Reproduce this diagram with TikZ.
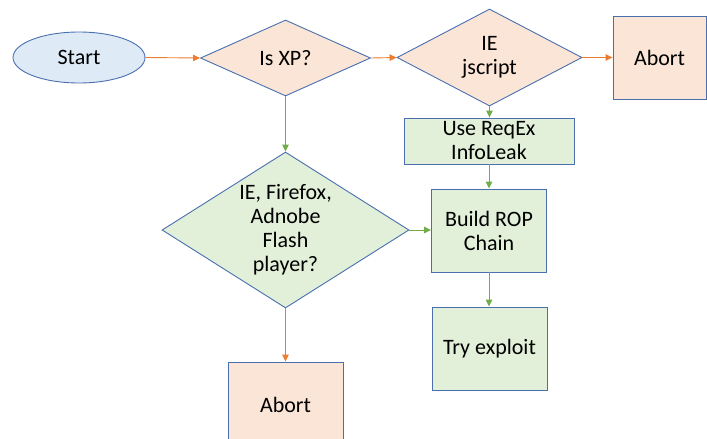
\documentclass[tikz,border=0pt]{standalone}
\usepackage{fontspec}
\setmainfont{Carlito}
\usetikzlibrary{shapes.geometric,arrows.meta}
\definecolor{edgeblue}{HTML}{4A6FAF}
\definecolor{fillblue}{HTML}{DEEBF7}
\definecolor{fillorange}{HTML}{FBE5D6}
\definecolor{fillgreen}{HTML}{E2F0D9}
\definecolor{arrorange}{HTML}{ED7D31}
\definecolor{arrgreen}{HTML}{70AD47}
\tikzset{
  base/.style={draw=edgeblue, line width=0.9pt, inner sep=0pt, align=center,
    font=\fontsize{22}{24}\selectfont, text=black},
  startshape/.style={base, ellipse, fill=fillblue},
  decision/.style={base, diamond},
  procbox/.style={base, rectangle},
  orangebox/.style={fill=fillorange},
  greenbox/.style={fill=fillgreen},
  flowo/.style={draw=arrorange, line width=0.9pt, -{Triangle[length=7pt,width=6.5pt]}},
  flowg/.style={draw=arrgreen, line width=0.9pt, -{Triangle[length=7pt,width=6.5pt]}},
}
\begin{document}
\begin{tikzpicture}[x=1pt,y=-1pt]
\useasboundingbox (0,0) rectangle (707,439);
\node[startshape, minimum width=132pt, minimum height=51pt] (start) at (79,57.5) {Start};
\node[decision, orangebox, shape aspect=2.2, minimum width=170pt, minimum height=76pt] (xp) at (285.5,58) {Is XP?};
\node[decision, orangebox, shape aspect=1.9, minimum width=185pt, minimum height=97pt] (ie) at (489.5,57.5) {IE\\jscript};
\node[procbox, orangebox, minimum width=93pt, minimum height=83pt] (abort1) at (659.5,57.5) {Abort};
\node[procbox, greenbox, minimum width=170pt, minimum height=46pt] (reqex) at (489,141) {Use ReqEx\\InfoLeak};
\node[procbox, greenbox, minimum width=115pt, minimum height=83pt] (build) at (489,230.5) {Build ROP\\Chain};
\node[procbox, greenbox, minimum width=115pt, minimum height=83pt] (try) at (489.5,348.5) {Try exploit};
\node[decision, greenbox, shape aspect=1.58, minimum width=247pt, minimum height=156pt] (flash) at (285.5,230) {IE, Firefox,\\Adnobe\\Flash\\player?};
\node[procbox, orangebox, minimum width=115pt, minimum height=86pt] (abort2) at (285.5,405) {Abort};
\draw[flowo] (start.east) -- (xp.west);
\draw[flowo] (xp.east) -- (ie.west);
\draw[flowo] (ie.east) -- (abort1.west);
\draw[flowg] (ie.south) -- (ie.south |- reqex.north);
\draw[flowg] (reqex.south) -- (reqex.south |- build.north);
\draw[flowg] (xp.south) -- (xp.south |- flash.north);
\draw[flowg] (flash.east) -- (flash.east -| build.west);
\draw[flowg] (build.south) -- (build.south |- try.north);
\draw[flowo] (flash.south) -- (flash.south |- abort2.north);
\end{tikzpicture}
\end{document}
